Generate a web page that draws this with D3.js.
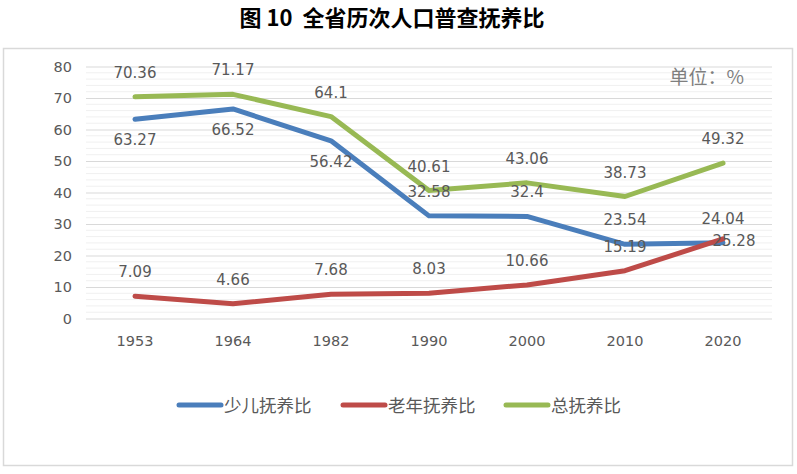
<!DOCTYPE html>
<html><head><meta charset="utf-8">
<script src="https://cdn.jsdelivr.net/npm/d3@7"></script>
<style>
body{margin:0;background:#fff;}
svg{display:block;}
</style></head>
<body>
<svg id="chart" width="797" height="474"></svg>
<script>
const years = ["1953","1964","1982","1990","2000","2010","2020"];
const childRatio = [63.27,66.52,56.42,32.58,32.4,23.54,24.04];
const elderRatio = [7.09,4.66,7.68,8.03,10.66,15.19,25.28];
const totalRatio = [70.36,71.17,64.1,40.61,43.06,38.73,49.32];
const seriesNames = ["少儿抚养比","老年抚养比","总抚养比"];
const yTicks = [0,10,20,30,40,50,60,70,80];
const titleText = "图 10  全省历次人口普查抚养比";
const unitText = "单位：%";

// label placement (not data): above / below / right
const childPlace = ["below","below","below","above","above","above","above"];
const elderPlace = ["above","above","above","above","above","above","right"];
const totalPlace = ["above","above","above","above","above","above","above"];

const colors = ["#4a7ebb","#be4b48","#98b954"];
const series = [
  {name:seriesNames[0], values:childRatio, place:childPlace, color:colors[0]},
  {name:seriesNames[1], values:elderRatio, place:elderPlace, color:colors[1]},
  {name:seriesNames[2], values:totalRatio, place:totalPlace, color:colors[2]}
];

const svg = d3.select("#chart");
const txt = "#595959";
const font = "'DejaVu Sans', sans-serif";
const cjk = "'Noto Sans CJK SC', sans-serif";

// frame
svg.append("rect").attr("x",3.5).attr("y",48.5).attr("width",789).attr("height",417)
  .attr("fill","#fff").attr("stroke","#d9d9d9").attr("stroke-width",1.5);

// title
svg.append("text").attr("x",392).attr("y",26).attr("text-anchor","middle")
  .attr("font-family",cjk).attr("font-size",22).attr("font-weight","bold")
  .attr("fill","#000").attr("xml:space","preserve").style("white-space","pre").text(titleText);

const x = d3.scaleBand().domain(years).range([86,772]);
const y = d3.scaleLinear().domain([0,80]).range([318.5,66.5]);
const cx = d => x(d) + x.bandwidth()/2;

// minor gridlines
const g = svg.append("g");
g.selectAll("line.minor").data(d3.range(0,80,2).filter(v=>v%10!==0)).join("line")
  .attr("x1",86).attr("x2",772).attr("y1",d=>y(d)).attr("y2",d=>y(d))
  .attr("stroke","#f0f0f0").attr("stroke-width",1);

// y axis
const yAxis = d3.axisLeft(y).tickValues(yTicks).tickSize(-686).tickPadding(14);
const ya = svg.append("g").attr("transform","translate(86,0)").call(yAxis);
ya.select(".domain").remove();
ya.selectAll(".tick line").attr("stroke","#d9d9d9");
ya.selectAll(".tick text").attr("fill",txt).attr("font-family",font).attr("font-size",14.5);

// x axis
const xAxis = d3.axisBottom(x).tickSize(0).tickPadding(17);
const xa = svg.append("g").attr("transform","translate(0,318.5)").call(xAxis);
xa.select(".domain").remove();
xa.selectAll(".tick text").attr("fill",txt).attr("font-family",font).attr("font-size",14.5);

// lines
const line = d3.line().x((d,i)=>cx(years[i])).y(d=>y(d));
series.forEach(s=>{
  svg.append("path").datum(s.values).attr("d",line).attr("fill","none")
    .attr("stroke",s.color).attr("stroke-width",5).attr("stroke-linejoin","round").attr("stroke-linecap","round");
});

// labels
series.forEach(s=>{
  svg.append("g").selectAll("text").data(s.values).join("text")
    .attr("x",(d,i)=> cx(years[i]) + (s.place[i]==="right"?11:0))
    .attr("y",(d,i)=> y(d) + (s.place[i]==="below"?26:(s.place[i]==="right"?7:-19)))
    .attr("text-anchor","middle").attr("fill",txt).attr("font-family",font).attr("font-size",15)
    .text(d=>d);
});

// unit
svg.append("text").attr("x",744).attr("y",84).attr("text-anchor","end")
  .attr("font-family",cjk).attr("font-size",19).attr("fill","#7f7f7f").text(unitText);

// legend
const legendX = [179,343,506];
const lg = svg.append("g");
series.forEach((s,i)=>{
  lg.append("line").attr("x1",legendX[i]).attr("x2",legendX[i]+42).attr("y1",405).attr("y2",405)
    .attr("stroke",s.color).attr("stroke-width",5).attr("stroke-linecap","round");
  lg.append("text").attr("x",legendX[i]+45).attr("y",411.5).attr("font-family",cjk)
    .attr("font-size",17.5).attr("fill",txt).text(s.name);
});
</script>
</body></html>
